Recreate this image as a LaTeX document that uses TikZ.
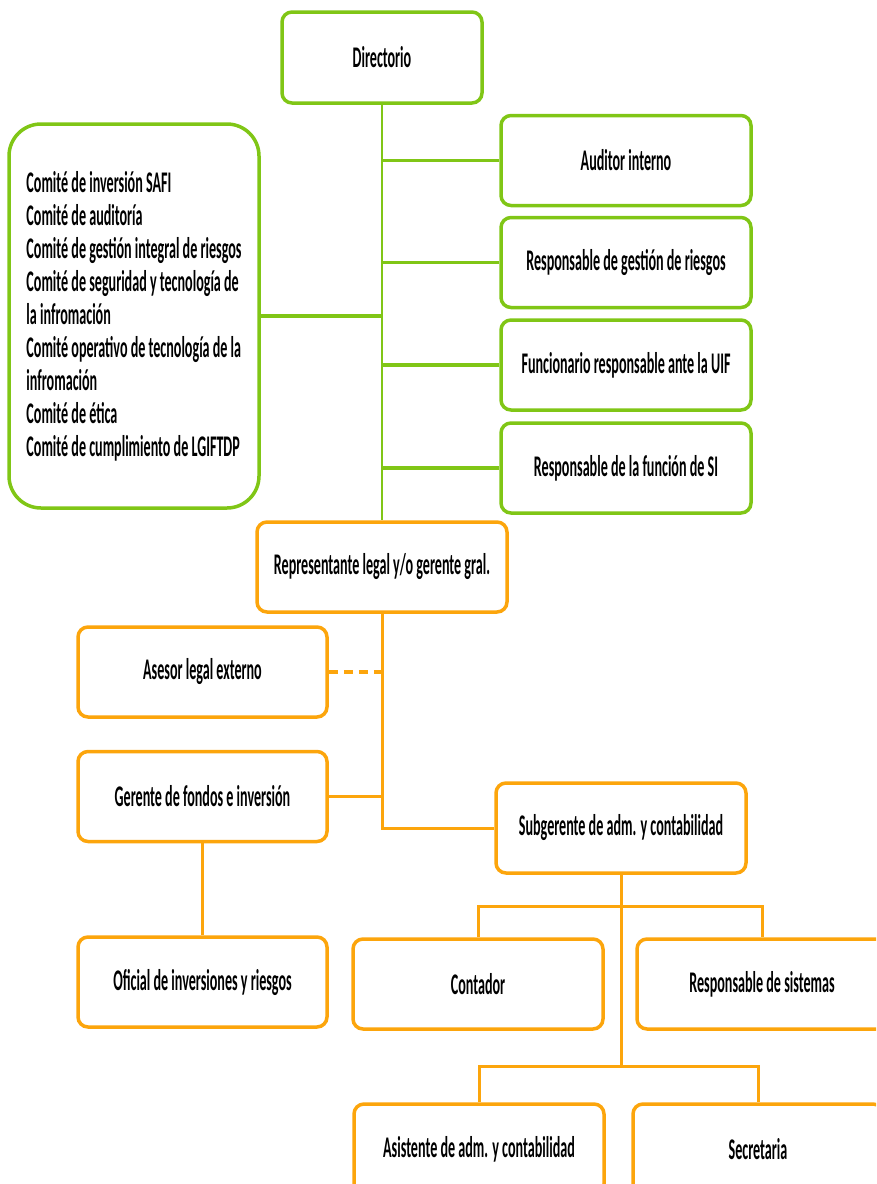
\documentclass[tikz,border=0pt]{standalone}
\usepackage{fontspec}
\setmainfont{Carlito}[FakeStretch=0.47]
\definecolor{grn}{RGB}{128,198,22}
\definecolor{org}{RGB}{252,165,12}
\begin{document}
\begin{tikzpicture}[x=1pt,y=-1pt,
  base/.style={draw, rounded corners=10pt, line width=3.5pt, fill=white,
    minimum width=250pt, minimum height=90pt, inner sep=0pt, align=center,
    font=\fontsize{30}{33}\selectfont\bfseries},
  gbox/.style={base, draw=grn},
  obox/.style={base, draw=org},
  gline/.style={draw=grn, line width=3.5pt},
  gvline/.style={draw=grn, line width=2pt},
  oline/.style={draw=org, line width=3pt},
  odash/.style={draw=org, line width=3.5pt, dash pattern=on 9pt off 6pt}]
\useasboundingbox (0,0) rectangle (876,1184);
\clip (0,0) rectangle (876,1184);
% green part
\node[gbox, minimum width=200pt, minimum height=91pt] (dir) at (382,57.5) {Directorio};
\node[gbox, rounded corners=32pt, align=left, minimum height=384pt] (com) at (134,316) {Comité de inversión SAFI\\
Comité de auditoría\\
Comité de gestión integral de riesgos\\
Comité de seguridad y tecnología de\\
la infromación\\
Comité operativo de tecnología de la\\
infromación\\
Comité de ética\\
Comité de cumplimiento de LGIFTDP};
\node[gbox] (aud) at (626,160.5) {Auditor interno};
\node[gbox] (rgr) at (626,262.5) {Responsable de gestión de riesgos};
\node[gbox] (fun) at (626,365) {Funcionario responsable ante la UIF};
\node[gbox] (rsi) at (626,468) {Responsable de la función de SI};
% orange part
\node[obox] (rep) at (382,567) {Representante legal y/o gerente gral.};
\node[obox, minimum width=249pt] (ase) at (202.5,672) {Asesor legal externo};
\node[obox, minimum width=249pt] (ger) at (202.5,796.5) {Gerente de fondos e inversión};
\node[obox, minimum width=249pt] (ofi) at (202.5,982) {Oficial de inversiones y riesgos};
\node[obox] (sub) at (621,828) {Subgerente de adm. y contabilidad};
\node[obox] (con) at (478,984) {Contador};
\node[obox] (rsis) at (762,984) {Responsable de sistemas};
\node[obox] (asi) at (479,1149) {Asistente de adm. y contabilidad};
\node[obox] (sec) at (758,1149) {Secretaria};
\coordinate (b1) at (621,906);
\coordinate (b2) at (621,1066);
% green connectors
\draw[gvline] (dir.south) -- (rep.north);
\draw[gline] (aud.west) -- (aud.west -| dir.south);
\draw[gline] (rgr.west) -- (rgr.west -| dir.south);
\draw[gline] (fun.west) -- (fun.west -| dir.south);
\draw[gline] (rsi.west) -- (rsi.west -| dir.south);
\draw[gline] (com.east) -- (com.east -| dir.south);
% orange connectors
\draw[oline] (rep.south) |- (sub.west);
\draw[odash] (ase.east) -- (ase.east -| rep.south);
\draw[oline] (ger.east) -- (ger.east -| rep.south);
\draw[oline] (ger.south) -- (ofi.north);
\draw[oline] (sub.south) -- (b2);
\draw[oline] (con.north) |- (b1) -| (rsis.north);
\draw[oline] (asi.north) |- (b2) -| (sec.north);
\end{tikzpicture}
\end{document}
